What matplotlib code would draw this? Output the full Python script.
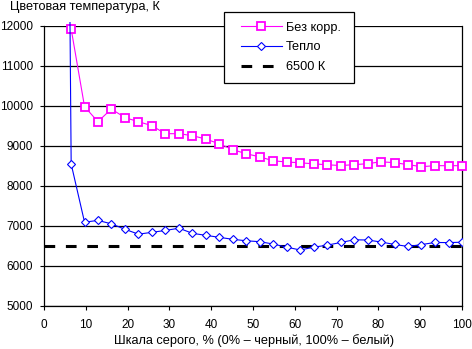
import numpy as np
import matplotlib
matplotlib.use("Agg")
import matplotlib.pyplot as plt
from matplotlib.patches import Rectangle
from matplotlib.transforms import Bbox, TransformedBbox

plt.rcParams['font.family'] = ['Liberation Sans', 'DejaVu Sans']

# шкала серого, %
x_gray = [6.5, 9.7, 12.9, 16.1, 19.4, 22.6, 25.8, 29.0, 32.3, 35.5,
          38.7, 41.9, 45.2, 48.4, 51.6, 54.8, 58.1, 61.3, 64.5, 67.7,
          71.0, 74.2, 77.4, 80.6, 83.9, 87.1, 90.3, 93.5, 96.8, 100.0]
# "Тепло" has one more point at the start (far off scale)
x_warm = [3.2] + x_gray

no_corr = [11925, 9983, 9608, 9925, 9708, 9608, 9508, 9308, 9308, 9258,
           9175, 9055, 8908, 8805, 8730, 8630, 8600, 8580, 8555, 8530,
           8512, 8533, 8558, 8605, 8583, 8533, 8483, 8508, 8508, 8508]
warm = [50000, 8550, 7095, 7140, 7055, 6917, 6795, 6842, 6888, 6945, 6817,
        6767, 6717, 6667, 6630, 6608, 6550, 6470, 6400, 6470, 6520,
        6588, 6655, 6650, 6600, 6538, 6488, 6535, 6588, 6585, 6595]
ref_temp = 6500

xticks = list(range(0, 101, 10))
yticks = list(range(5000, 12001, 1000))

W, H = 472, 349
fig = plt.figure(figsize=(W / 100, H / 100), dpi=100)
ax = fig.add_axes([44 / W, 1 - 306 / H, 418 / W, 280 / H])

ax.plot(x_gray, no_corr, color='#FF00FF', lw=0.8, marker='s', ms=5.2,
        mfc='white', mec='#FF00FF', mew=1.3, clip_on=False, label='Без корр.',
        zorder=3)
wl, = ax.plot(x_warm, warm, color='#0000FF', lw=0.8, marker='D', ms=3.9,
              mfc='white', mec='#0000FF', mew=0.8, label='Тепло', zorder=4)
wl.set_clip_box(TransformedBbox(Bbox([[0, 0], [1, 1.015]]), ax.transAxes))
ax.axhline(ref_temp, color='black', lw=2.2, ls=(0, (3.5, 3.5)),
           label='6500 К', zorder=2)

ax.set_xlim(0, 100)
ax.set_ylim(5000, 12000)
ax.set_xticks(xticks)
ax.set_yticks(yticks)
ax.yaxis.grid(True, color='black', lw=0.9)
ax.set_axisbelow(True)
for s in ['left', 'bottom', 'right']:
    ax.spines[s].set_color('black')
    ax.spines[s].set_linewidth(0.9)
ax.spines['top'].set_visible(False)
ax.tick_params(axis='both', direction='out', length=3, width=0.8,
               colors='black', labelsize=8.5)
ax.tick_params(axis='y', pad=5)
ax.tick_params(axis='x', pad=6)

fig.text(10 / W, 1 - 10 / H, 'Цветовая температура, К', fontsize=9.2,
         ha='left', va='baseline')
fig.text(254 / W, 5 / H, 'Шкала серого, % (0% – черный, 100% – белый)',
         fontsize=9.2, ha='center', va='baseline')

# legend box (white, covers the grid) + legend entries on top
box = Rectangle((224 / W, 1 - 83 / H), 130 / W, 71 / H,
                transform=fig.transFigure, facecolor='white',
                edgecolor='black', lw=0.9, zorder=4)
fig.patches.append(box)
handles, labels = ax.get_legend_handles_labels()
leg = fig.legend(handles, labels, loc='center left',
                 bbox_to_anchor=(241 / W, 1 - 47.5 / H), frameon=False,
                 borderpad=0, borderaxespad=0, fontsize=9.2,
                 handlelength=3.2, handletextpad=0.3, labelspacing=0.62)
leg.set_zorder(5)

fig.savefig('out.png', dpi=100)
